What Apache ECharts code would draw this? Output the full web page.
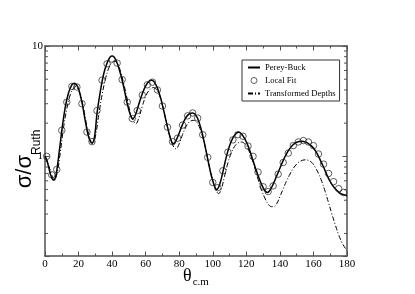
<!DOCTYPE html>
<html><head><meta charset="utf-8">
<script src="https://cdn.jsdelivr.net/npm/echarts@6/dist/echarts.min.js"></script>
<style>html,body{margin:0;padding:0;background:#fff}#c{width:415px;height:294px}</style>
</head><body><div id="c"></div>
<script>
// Perey-Buck (solid line)
const pbAngles = [0,1,2,3,4,5,6,7,8,9,10,12,14,16,17.5,19,20,22,24,26,28,29.5,31,33,35,37,38.5,40,41.5,43,45,47,49,51,52.3,54,56,58,60,62,63.5,65,67,69,71,73,75,76.5,78,80,82,84,86,88,90,92,94,96,98,100,102.3,104,106,108,110,112,114,115.5,117,119,121,123,125,127,129,131,132.5,134,136,138,140,142,144,146,148,150,153,156,158,160,162,164,166,168,170,172,174,176,178,180];
const pbValues = [1.0,0.93,0.82,0.71,0.64,0.61,0.63,0.74,0.96,1.28,1.7,2.75,3.75,4.45,4.6,4.4,4.1,3.1,2.1,1.5,1.32,1.5,2.45,3.9,5.6,7.0,7.8,8.1,7.8,7.0,5.6,4.2,3.0,2.35,2.18,2.4,3.0,3.7,4.35,4.8,4.9,4.75,4.15,3.35,2.5,1.85,1.42,1.3,1.38,1.63,1.95,2.25,2.42,2.47,2.35,2.0,1.55,1.12,0.8,0.6,0.5,0.55,0.72,0.98,1.25,1.47,1.62,1.65,1.6,1.45,1.25,1.02,0.82,0.67,0.56,0.49,0.47,0.49,0.56,0.66,0.78,0.92,1.06,1.18,1.28,1.34,1.37,1.33,1.27,1.19,1.07,0.93,0.8,0.68,0.59,0.53,0.49,0.46,0.45,0.44];
// Local Fit (circles)
const fitAngles = [1,4,7,10,13,16,19,22,25,28,31,34,37,40,43,46,49,52,55,58,61,64,67,70,73,76,79,82,85,88,91,94,97,100,103,106,109,112,115,118,121,124,127,130,133,136,139,142,145,148,151,154,157,160,163,166,169,172,175,178];
const fitValues = [1.0,0.68,0.76,1.72,3.1,4.3,4.25,3.0,1.66,1.36,2.6,4.9,6.9,7.6,7.0,4.96,3.1,2.2,2.6,3.6,4.45,4.7,4.0,2.86,1.84,1.36,1.46,1.92,2.33,2.47,2.22,1.57,0.98,0.58,0.52,0.74,1.09,1.41,1.57,1.52,1.24,1.0,0.72,0.53,0.48,0.54,0.69,0.88,1.07,1.25,1.35,1.39,1.35,1.25,1.05,0.85,0.70,0.59,0.51,0.47];
// Transformed Depths (dash-dot line)
const tdAngles = [0,2,4,5.5,7,9,11,13,15,17,18.2,20,22,24,26,28.5,30,32,34,36,38,40,41.3,43,45,47,49,51,53,54.2,56,58,60,62,64.5,66,68,70,72,74,76,78,80,82,84,86,88.5,90,92,94,96,98,100,102,103.5,105,107,109,111,113,115,117,119,121,123,125,127,129,131,133,135,136.5,138,140,142,144,146,148,150,152,155,157,159,161,163,165,167,169,171,173,175,177,179,180];
const tdValues = [1.0,0.84,0.68,0.6,0.68,1.05,1.8,2.7,3.6,4.15,4.3,4.0,3.2,2.25,1.6,1.3,1.5,2.35,3.6,5.0,6.3,7.1,7.3,7.0,5.9,4.5,3.3,2.45,2.05,1.98,2.25,2.85,3.5,3.95,4.2,4.1,3.65,2.9,2.15,1.6,1.28,1.17,1.3,1.58,1.85,2.05,2.12,2.08,1.85,1.5,1.12,0.8,0.6,0.49,0.46,0.5,0.66,0.87,1.07,1.23,1.32,1.35,1.3,1.17,0.98,0.79,0.62,0.5,0.42,0.37,0.35,0.35,0.37,0.43,0.51,0.6,0.69,0.78,0.85,0.9,0.93,0.92,0.88,0.8,0.7,0.59,0.48,0.38,0.3,0.24,0.195,0.165,0.147,0.14];
const xTickStep = 20;
const yLabelValues = [1, 10];
const yMinorTicks = [0.2,0.3,0.4,0.5,0.6,0.7,0.8,0.9,2,3,4,5,6,7,8,9];
const seriesNames = ['Perey-Buck','Local Fit','Transformed Depths'];

const chart = echarts.init(document.getElementById('c'));
const axisColor = '#505050';
const serif = 'Liberation Serif';
const zip = (a, b) => a.map((x, i) => [x, b[i]]);
const yMin = 0.125, yMax = 10, xMin = 0, xMax = 180;

function xAxisDef(pos, withLabels) {
  return {
    type: 'value', min: xMin, max: xMax, interval: xTickStep, position: pos,
    axisLine: {show: true, onZero: false, lineStyle: {color: axisColor, width: 1.5}},
    axisTick: {show: true, inside: true, length: 4.5, lineStyle: {color: axisColor, width: 1}},
    minorTick: {show: true, splitNumber: 2, length: 2.5, lineStyle: {color: axisColor, width: 1}},
    splitLine: {show: false},
    axisLabel: {show: withLabels, color: '#000', fontFamily: serif, fontSize: 11, margin: 3},
  };
}
function yAxisDef(pos, withLabels) {
  return {
    type: 'log', logBase: 10, min: yMin, max: yMax, position: pos,
    axisLine: {show: true, onZero: false, lineStyle: {color: axisColor, width: 1.5}},
    axisTick: {show: true, inside: true, length: 4.5, lineStyle: {color: axisColor, width: 1}},
    splitLine: {show: false},
    axisLabel: {show: withLabels, color: '#000', fontFamily: serif, fontSize: 11, margin: 2,
      formatter: v => yLabelValues.some(t => Math.abs(v - t) < 1e-6 * t) ? String(Math.round(v)) : ''},
  };
}

const xBottom = xAxisDef('bottom', true);
xBottom.name = '{a|θ}{b|c.m}';
xBottom.nameLocation = 'middle';
xBottom.nameGap = 11;
xBottom.nameMoveOverlap = false;
xBottom.nameTextStyle = {rich: {
  a: {fontFamily: serif, fontSize: 18, lineHeight: 18, verticalAlign: 'top', color: '#000'},
  b: {fontFamily: serif, fontSize: 11, lineHeight: 11, padding: [10, 0, 0, 1], verticalAlign: 'top', color: '#000'}
}};
const yLeft = yAxisDef('left', true);
yLeft.name = '{a|σ/σ}{b|Ruth}';
yLeft.nameLocation = 'middle';
yLeft.nameGap = 7;
yLeft.nameMoveOverlap = false;
yLeft.nameTextStyle = {rich: {
  a: {fontFamily: 'Liberation Sans', fontSize: 22, lineHeight: 24, verticalAlign: 'top', color: '#000'},
  b: {fontFamily: 'Liberation Sans', fontSize: 12, lineHeight: 12, padding: [17, 16, 0, 0], verticalAlign: 'top', color: '#000'}
}};

const hiddenSymbol = {color: 'rgba(0,0,0,0)', borderWidth: 0, borderColor: 'rgba(0,0,0,0)'};

const option = {
  animation: false,
  backgroundColor: '#fff',
  grid: {left: 45, right: 68, top: 46, bottom: 38},
  legend: {
    orient: 'vertical', left: 242, top: 60, padding: [3, 4, 3, 5], itemGap: 4,
    itemWidth: 12, itemHeight: 6, borderColor: '#333', borderWidth: 1, backgroundColor: '#fff',
    selectedMode: false,
    data: [
      {name: seriesNames[0], itemStyle: hiddenSymbol},
      {name: seriesNames[1], itemStyle: {color: 'rgba(0,0,0,0)', borderColor: '#222', borderWidth: 0.9}},
      {name: seriesNames[2], itemStyle: hiddenSymbol}
    ],
    textStyle: {fontFamily: serif, fontSize: 8.6, color: '#000'}
  },
  xAxis: [xBottom, xAxisDef('top', false)],
  yAxis: [yLeft, yAxisDef('right', false)],
  series: [
    {name: seriesNames[0], type: 'line', xAxisIndex: 0, yAxisIndex: 0, data: zip(pbAngles, pbValues),
     smooth: 0.4, symbol: 'none', lineStyle: {color: '#000', width: 1.5}, itemStyle: {color: '#000'}, z: 3},
    {name: seriesNames[1], type: 'scatter', xAxisIndex: 0, yAxisIndex: 0, data: zip(fitAngles, fitValues),
     symbol: 'circle', symbolSize: 6.5,
     itemStyle: {color: 'rgba(255,255,255,0)', borderColor: '#222', borderWidth: 0.9}, z: 4},
    {name: seriesNames[2], type: 'line', xAxisIndex: 0, yAxisIndex: 0, data: zip(tdAngles, tdValues),
     smooth: 0.4, symbol: 'none', lineStyle: {color: '#000', width: 1, type: [5, 2, 1, 2]}, itemStyle: {color: '#000'}, z: 2},
    {type: 'custom', xAxisIndex: 0, yAxisIndex: 0, silent: true, coordinateSystem: 'cartesian2d',
     data: yMinorTicks.map(v => [xMin, v]), encode: {x: 0, y: 1},
     renderItem: (params, api) => {
       const v = api.value(1);
       const l = api.coord([xMin, v]);
       const r = api.coord([xMax, v]);
       return {type: 'group', children: [
         {type: 'line', shape: {x1: l[0], y1: l[1], x2: l[0] + 3, y2: l[1]}, style: {stroke: axisColor, lineWidth: 1}},
         {type: 'line', shape: {x1: r[0], y1: r[1], x2: r[0] - 3, y2: r[1]}, style: {stroke: axisColor, lineWidth: 1}}
       ]};
     }, z: 1}
  ]
};
chart.setOption(option);
</script></body></html>
